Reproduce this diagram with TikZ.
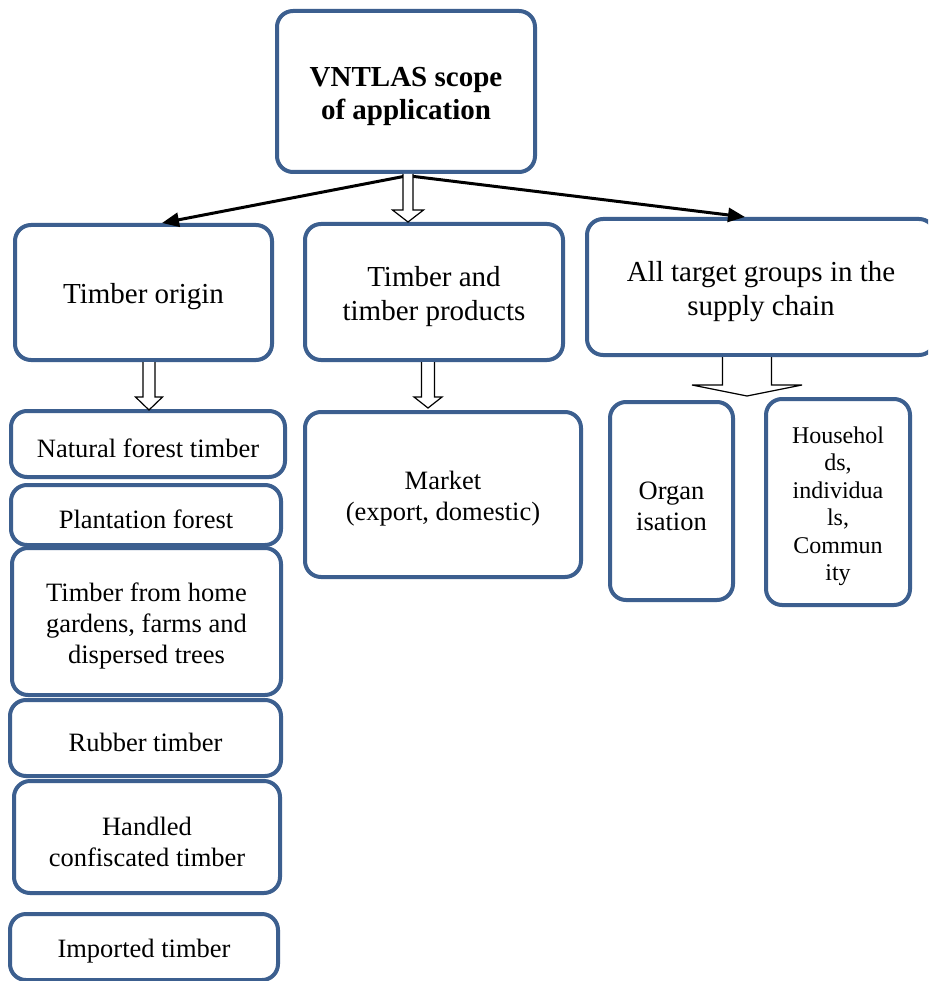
\documentclass[tikz,border=0pt]{standalone}
\usepackage{fontspec}
\setmainfont{Liberation Serif}
\usetikzlibrary{arrows.meta}
\definecolor{boxblue}{HTML}{3C5F8F}
\newcommand\lowr{\rule{0pt}{\dimexpr0.69em+9pt\relax}}
\tikzset{
  box/.style={draw=boxblue, line width=4pt, rounded corners=16pt, fill=white, inner sep=0pt, align=center},
  bigtxt/.style={font=\fontsize{29}{34}\selectfont},
  headtxt/.style={font=\fontsize{29}{33}\selectfont\bfseries},
  smalltxt/.style={font=\fontsize{26.5}{31}\selectfont},
  tinytxt/.style={font=\fontsize{24}{27.5}\selectfont},
  pointer/.style={line width=3pt, -{Triangle[length=17pt,width=14pt]}},
  hollow/.style={draw=black, line width=1.2pt, fill=white, line join=miter},
}
\newcommand\blockarr[6]{\filldraw[hollow] ({#1-#5},#2) -- ({#1-#5},#3) -- ({#1-#6},#3) -- (#1,#4) -- ({#1+#6},#3) -- ({#1+#5},#3) -- ({#1+#5},#2);}
\begin{document}
\begin{tikzpicture}[x=1pt,y=-1pt]
\clip (0,0) rectangle (928,981);
\fill[white] (0,0) rectangle (928,981);
% top
\node[box,headtxt,minimum width=258pt,minimum height=161pt] (top) at (406,91.5) {\lowr VNTLAS scope\\of application};
% second row
\node[box,bigtxt,minimum width=257pt,minimum height=135pt] (origin) at (143.5,292.5) {\lowr Timber origin};
\node[box,bigtxt,minimum width=258pt,minimum height=136pt] (prod) at (434,292) {\lowr Timber and\\timber products};
\node[box,bigtxt,minimum width=348pt,minimum height=136pt] (target) at (761,287) {\lowr All target groups in the\\supply chain};
% left column
\node[box,smalltxt,minimum width=274pt,minimum height=66pt] (natural) at (148,444) {\lowr Natural forest timber};
\node[box,smalltxt,minimum width=270pt,minimum height=60pt] (plant) at (146,515) {\lowr Plantation forest};
\node[box,smalltxt,minimum width=269pt,minimum height=147pt] (garden) at (146.5,621.5) {\lowr Timber from home\\gardens, farms and\\dispersed trees};
\node[box,smalltxt,minimum width=271pt,minimum height=76pt] (rubber) at (145.5,738) {\lowr Rubber timber};
\node[box,smalltxt,minimum width=266pt,minimum height=112pt] (handled) at (147,837) {\lowr Handled\\confiscated timber};
\node[box,smalltxt,minimum width=268pt,minimum height=66pt] (imported) at (144,947) {\lowr Imported timber};
% middle column
\node[box,smalltxt,minimum width=276pt,minimum height=165pt] (market) at (443,494.5) {\lowr Market\\(export, domestic)};
% right column
\node[box,smalltxt,minimum width=123pt,minimum height=198pt] (organ) at (671.5,501) {\lowr Organ\\isation};
\node[box,tinytxt,minimum width=144pt,minimum height=206pt] (house) at (838,502) {\lowr Househol\\ds,\\individua\\ls,\\Commun\\ity};
% pointers
\coordinate (srcL) at (406,176);
\coordinate (srcR) at (410,176);
\coordinate (tipL) at (162,223);
\coordinate (tipR) at (745,217);
\draw[pointer] (srcL) -- (tipL);
\draw[pointer] (srcR) -- (tipR);
% hollow block arrows
\blockarr{408}{174}{210}{222}{5}{15.5}
\blockarr{149}{362}{397}{410}{6}{13.5}
\blockarr{428}{362}{397}{408}{6.5}{14}
\blockarr{747}{357}{385}{396}{24.5}{55}
\end{tikzpicture}
\end{document}
